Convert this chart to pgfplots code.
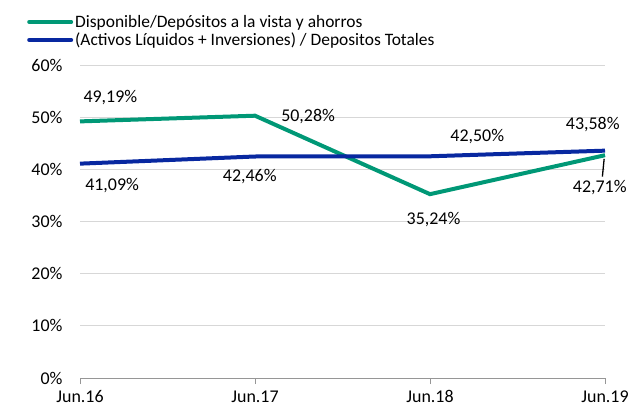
\documentclass[border=0pt]{standalone}
\usepackage{pgfplots}
\pgfplotsset{compat=1.18}
\usepackage{fontspec}
\setmainfont{Carlito}
\definecolor{cgreen}{RGB}{0,152,118}
\definecolor{cblue}{RGB}{8,40,160}
\definecolor{cgrid}{RGB}{215,215,215}
\definecolor{caxis}{RGB}{150,150,150}
\newcommand{\fs}{\fontsize{18}{20}\selectfont}
\begin{document}
\begin{tikzpicture}[x=1bp,y=1bp]
\useasboundingbox (0,0) rectangle (643,414);
\begin{axis}[
  at={(80bp,36bp)}, anchor=south west,
  scale only axis, width=525bp, height=313bp,
  xmin=0, xmax=3, ymin=0, ymax=60,
  xtick={0,1,2,3}, xticklabels={Jun.16,Jun.17,Jun.18,Jun.19},
  ytick={0,10,20,30,40,50,60},
  yticklabel={\pgfmathprintnumber{\tick}\%},
  /pgf/number format/assume math mode=true,
  ymajorgrids, grid style={cgrid, line width=1pt},
  axis lines*=left,
  y axis line style={draw=none},
  x axis line style={caxis, line width=1pt, -},
  xtick style={caxis, line width=0.8pt},
  tick align=outside, major tick length=6bp,
  ytick style={draw=none},
  tick label style={font=\fs, text=black},
  xticklabel style={yshift=-3bp},
  yticklabel style={xshift=-8bp},
  clip=false,
  legend style={at={(-53bp,313bp+52bp)}, anchor=north west, draw=none, fill=none,
    font=\fontsize{17.5}{20}\selectfont, row sep=0bp, inner sep=0pt,
    /tikz/every even column/.append style={column sep=2pt}},
  legend cell align=left,
  legend image code/.code={\draw[#1, line width=4bp, line cap=round] (0bp,0bp) -- (42bp,0bp);},
]
\addplot[cgreen, line width=4bp] coordinates {(0,49.19) (1,50.28) (2,35.24) (3,42.71)};
\addlegendentry{Disponible/Depósitos a la vista y ahorros}
\addplot[cblue, line width=4bp] coordinates {(0,41.09) (1,42.46) (2,42.50) (3,43.58)};
\addlegendentry{(Activos Líquidos + Inversiones) / Depositos Totales}
\begin{scope}[every node/.style={font=\fs}]
\node[anchor=west] at (axis cs:0,53.8) {49,19\%};
\node[anchor=west] at (axis cs:1.13,50.1) {50,28\%};
\node at (axis cs:2.02,30.4) {35,24\%};
\node at (axis cs:2.97,36.6) {42,71\%};
\draw[black, line width=1.3pt] (axis cs:2.995,42.0) -- (axis cs:2.985,38.6);
\node[anchor=west] at (axis cs:0.01,36.8) {41,09\%};
\node at (axis cs:0.97,38.7) {42,46\%};
\node at (axis cs:2.27,46.2) {42,50\%};
\node at (axis cs:2.93,48.5) {43,58\%};
\end{scope}
\end{axis}
\end{tikzpicture}
\end{document}
